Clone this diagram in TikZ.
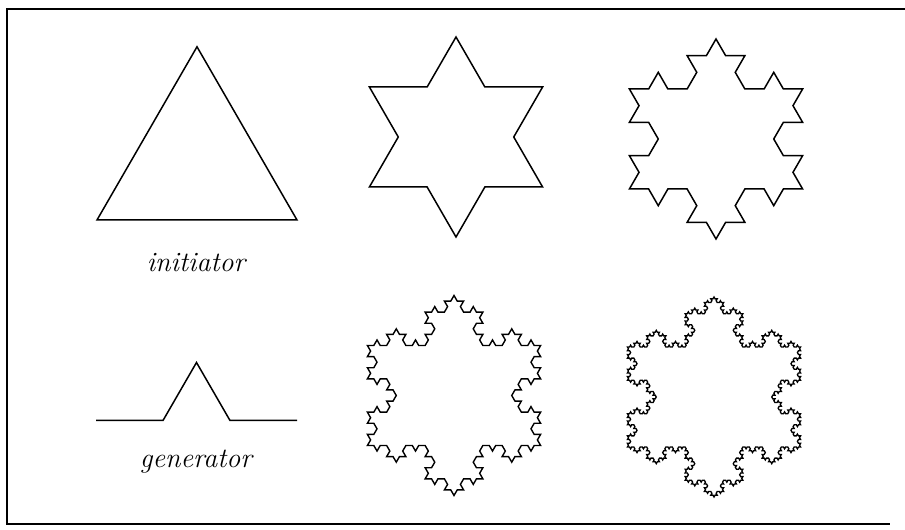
\documentclass[tikz,border=0pt]{standalone}
\usetikzlibrary{lindenmayersystems}
\pgfdeclarelindenmayersystem{Koch}{\rule{F -> F-F++F-F}}
\begin{document}
\begin{tikzpicture}[x=1pt,y=1pt,
  curve/.style={draw=black,line width=1.5pt,line join=miter},
  frameline/.style={draw=black,line width=1.8pt},
  lab/.style={font=\fontsize{28}{30}\selectfont\itshape,anchor=base,inner sep=0pt}]
\useasboundingbox (0,0) rectangle (905,530);
% frame
\coordinate (f1) at (905,521);
\coordinate (f2) at (7,521);
\coordinate (f3) at (7,6);
\coordinate (f4) at (890,6);
\draw[frameline] (f1) -- (f2) -- (f3) -- (f4);
% initiator
\coordinate (t1) at (97,310);
\coordinate (t2) at (297,310);
\coordinate (t3) at (197,483.2);
\draw[curve] (t1) -- (t2) -- (t3) -- cycle;
\node[lab] (init) at (196,258) {initiator};
% generator
\coordinate (g1) at (96,109.5);
\coordinate (g2) at (163,109.5);
\coordinate (g3) at (196.5,167.5);
\coordinate (g4) at (230,109.5);
\coordinate (g5) at (297,109.5);
\draw[curve] (g1) -- (g2) -- (g3) -- (g4) -- (g5);
\node[lab] (gen) at (196,62) {generator};
% snowflakes: start at bottom-left vertex of base triangle (center - (86.6,50))
\coordinate (s1) at (369.4,343);
\coordinate (s2) at (629.4,341);
\coordinate (s3) at (367.4,84.5);
\coordinate (s4) at (627.4,83);
\begin{scope}[shift={(s1)}]
\coordinate (o1) at (0,0);
\draw[curve,l-system={Koch,axiom=F++F++F,order=1,step=57.735pt,angle=60}] (o1) lindenmayer system -- cycle;
\end{scope}
\begin{scope}[shift={(s2)}]
\coordinate (o2) at (0,0);
\draw[curve,l-system={Koch,axiom=F++F++F,order=2,step=19.245pt,angle=60}] (o2) lindenmayer system -- cycle;
\end{scope}
\begin{scope}[shift={(s3)}]
\coordinate (o3) at (0,0);
\draw[curve,line width=1.4pt,l-system={Koch,axiom=F++F++F,order=3,step=6.415pt,angle=60}] (o3) lindenmayer system -- cycle;
\end{scope}
\begin{scope}[shift={(s4)}]
\coordinate (o4) at (0,0);
\draw[curve,line width=1.3pt,l-system={Koch,axiom=F++F++F,order=4,step=2.1383pt,angle=60}] (o4) lindenmayer system -- cycle;
\end{scope}
\end{tikzpicture}
\end{document}
